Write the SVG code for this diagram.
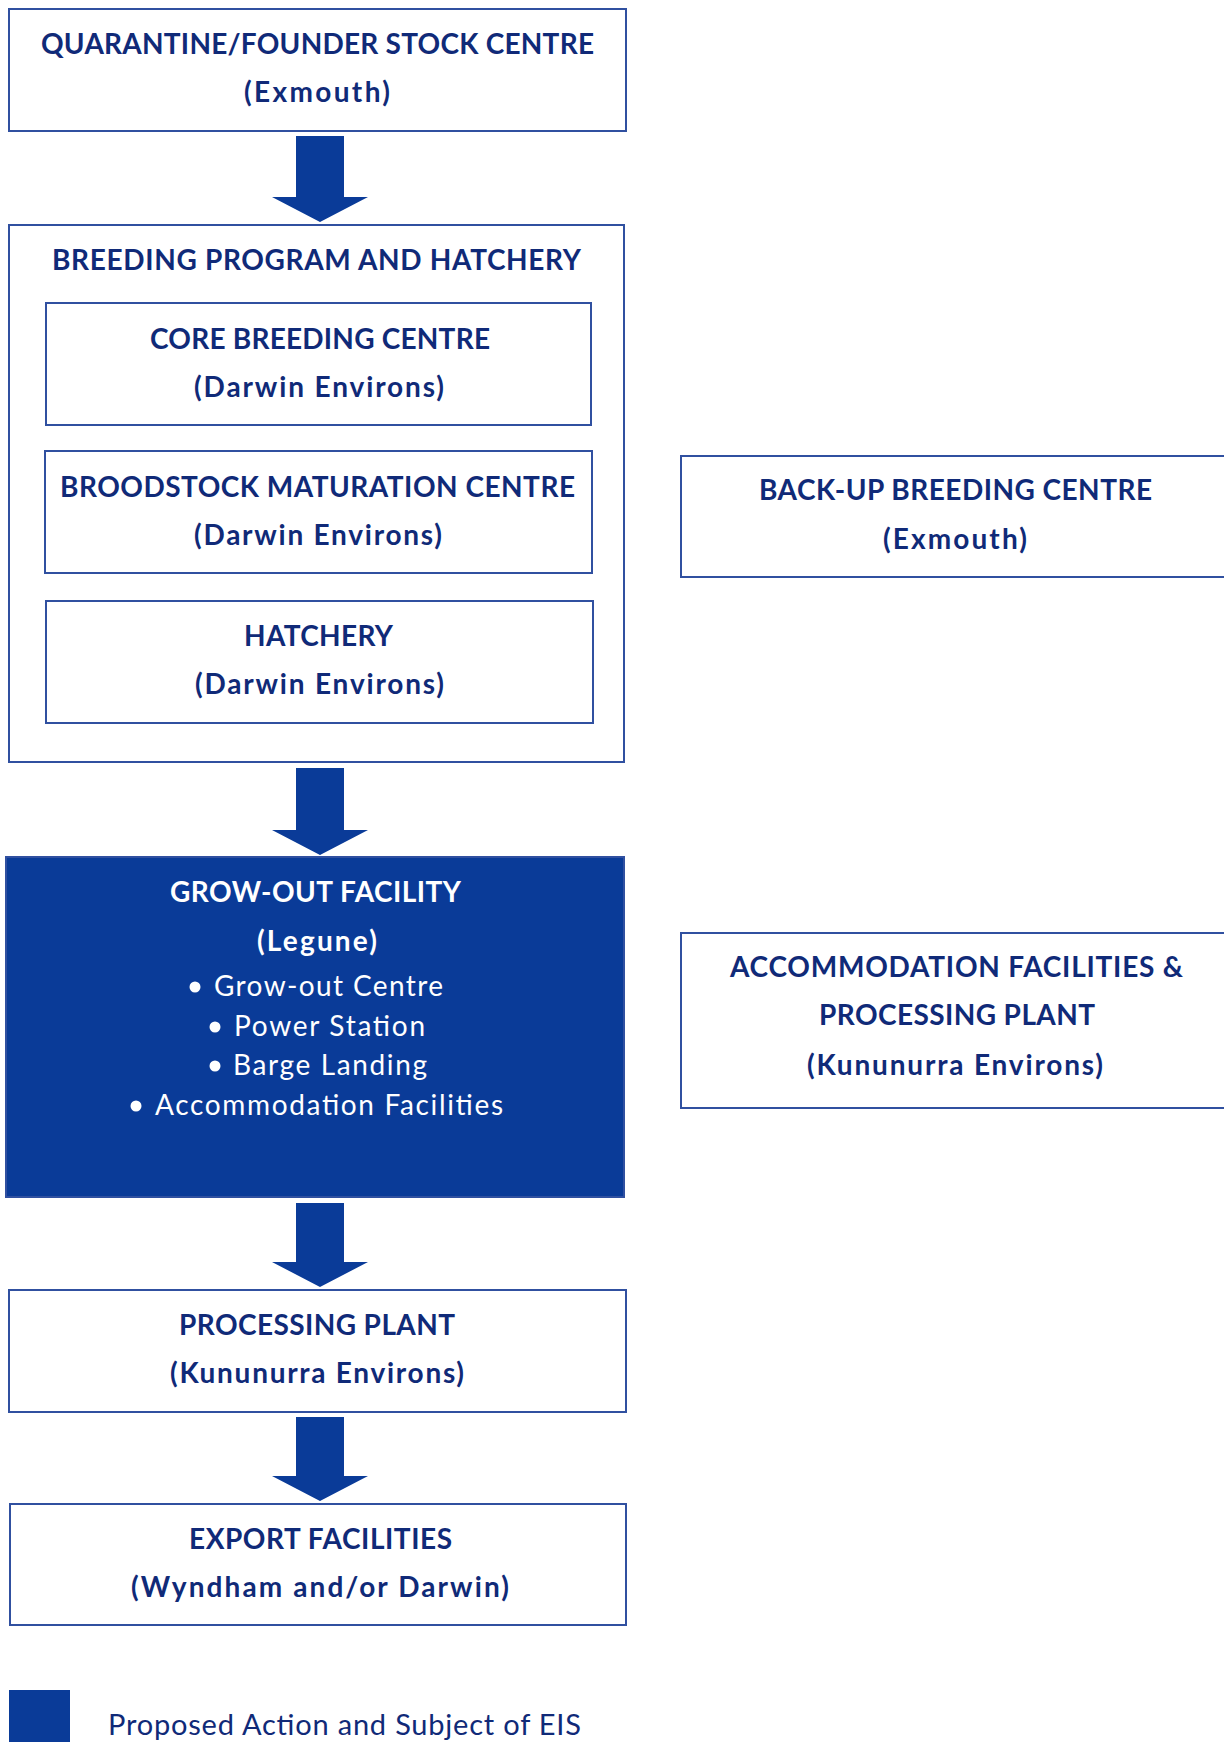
<svg xmlns="http://www.w3.org/2000/svg" width="1224" height="1742" viewBox="0 0 1224 1742">
<style>
.box{fill:#ffffff;stroke:#3050a0;stroke-width:2}
.fill{fill:#0a3b98;stroke:#3050a0;stroke-width:2}
.t{font-family:Lato,"Open Sans",sans-serif;font-weight:bold;font-size:28px;fill:#102a78}
.w{font-family:Lato,"Open Sans",sans-serif;font-size:28px;fill:#ffffff}
.wb{font-family:Lato,"Open Sans",sans-serif;font-weight:bold;font-size:28px;fill:#ffffff}
.arr{fill:#0a3b98}
.leg{font-family:Lato,"Open Sans",sans-serif;font-size:29px;fill:#102a78}
</style>
<rect x="0" y="0" width="1224" height="1742" fill="#ffffff"/>
<g id="quarantine">
<rect class="box" x="9" y="9" width="617" height="122"/>
<text class="t" x="41" y="54" textLength="553" lengthAdjust="spacing">QUARANTINE/FOUNDER STOCK CENTRE</text>
<text class="t" x="244" y="102" textLength="146" lengthAdjust="spacing">(Exmouth)</text>
</g>
<g id="breeding">
<rect class="box" x="9" y="225" width="615" height="537"/>
<text class="t" x="52" y="270" textLength="529" lengthAdjust="spacing">BREEDING PROGRAM AND HATCHERY</text>
</g>
<g id="core">
<rect class="box" x="46" y="303" width="545" height="122"/>
<text class="t" x="150" y="349" textLength="340" lengthAdjust="spacing">CORE BREEDING CENTRE</text>
<text class="t" x="194" y="397" textLength="250" lengthAdjust="spacing">(Darwin Environs)</text>
</g>
<g id="broodstock">
<rect class="box" x="45" y="451" width="547" height="122"/>
<text class="t" x="60" y="497" textLength="515" lengthAdjust="spacing">BROODSTOCK MATURATION CENTRE</text>
<text class="t" x="194" y="545" textLength="248" lengthAdjust="spacing">(Darwin Environs)</text>
</g>
<g id="hatchery">
<rect class="box" x="46" y="601" width="547" height="122"/>
<text class="t" x="244" y="646" textLength="149" lengthAdjust="spacing">HATCHERY</text>
<text class="t" x="195" y="694" textLength="249" lengthAdjust="spacing">(Darwin Environs)</text>
</g>
<g id="growout">
<rect class="fill" x="6" y="857" width="618" height="340"/>
<text class="wb" x="170" y="902" textLength="291" lengthAdjust="spacing">GROW-OUT FACILITY</text>
<text class="wb" x="257" y="951" textLength="120" lengthAdjust="spacing">(Legune)</text>
<circle cx="195" cy="987" r="5.5" fill="#ffffff"/>
<text class="w" x="214" y="996" textLength="229" lengthAdjust="spacing">Grow-out Centre</text>
<circle cx="215" cy="1027" r="5.5" fill="#ffffff"/>
<text class="w" x="234" y="1036" textLength="191" lengthAdjust="spacing">Power Station</text>
<circle cx="215" cy="1066" r="5.5" fill="#ffffff"/>
<text class="w" x="233" y="1075" textLength="194" lengthAdjust="spacing">Barge Landing</text>
<circle cx="136" cy="1106" r="5.5" fill="#ffffff"/>
<text class="w" x="155" y="1115" textLength="348" lengthAdjust="spacing">Accommodation Facilities</text>
</g>
<g id="processing">
<rect class="box" x="9" y="1290" width="617" height="122"/>
<text class="t" x="179" y="1335" textLength="276" lengthAdjust="spacing">PROCESSING PLANT</text>
<text class="t" x="170" y="1383" textLength="294" lengthAdjust="spacing">(Kununurra Environs)</text>
</g>
<g id="export">
<rect class="box" x="10" y="1504" width="616" height="121"/>
<text class="t" x="189" y="1549" textLength="263" lengthAdjust="spacing">EXPORT FACILITIES</text>
<text class="t" x="131" y="1597" textLength="378" lengthAdjust="spacing">(Wyndham and/or Darwin)</text>
</g>
<g id="backup">
<rect class="box" x="681" y="456" width="560" height="121"/>
<text class="t" x="759" y="500" textLength="393" lengthAdjust="spacing">BACK-UP BREEDING CENTRE</text>
<text class="t" x="883" y="549" textLength="144" lengthAdjust="spacing">(Exmouth)</text>
</g>
<g id="accommodation">
<rect class="box" x="681" y="933" width="560" height="175"/>
<text class="t" x="730" y="977" textLength="453" lengthAdjust="spacing">ACCOMMODATION FACILITIES &amp;</text>
<text class="t" x="819" y="1025" textLength="276" lengthAdjust="spacing">PROCESSING PLANT</text>
<text class="t" x="807" y="1075" textLength="296" lengthAdjust="spacing">(Kununurra Environs)</text>
</g>
<g id="connectors">
<polygon class="arr" points="296,136 344,136 344,197 368,197 320,222 272,197 296,197"/>
<polygon class="arr" points="296,768 344,768 344,830 368,830 320,855 272,830 296,830"/>
<polygon class="arr" points="296,1203 344,1203 344,1262 368,1262 320,1287 272,1262 296,1262"/>
<polygon class="arr" points="296,1417 344,1417 344,1476 368,1476 320,1501 272,1476 296,1476"/>
</g>
<g id="legend">
<rect x="9" y="1690" width="61" height="60" fill="#0a3b98"/>
<text class="leg" x="108" y="1735" textLength="473" lengthAdjust="spacing">Proposed Action and Subject of EIS</text>
</g>
</svg>
